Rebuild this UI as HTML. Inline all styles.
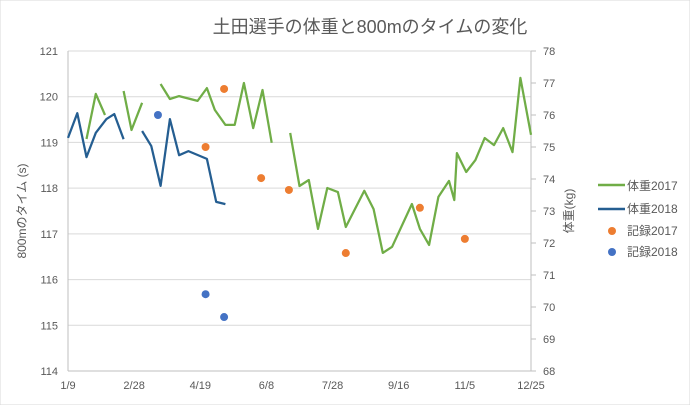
<!DOCTYPE html>
<html><head><meta charset="utf-8"><style>
body{margin:0;background:#fff}
svg{display:block;font-family:"Liberation Sans","Noto Sans CJK JP",sans-serif}
</style></head><body>
<svg id="chart" width="690" height="405" viewBox="0 0 690 405">
<rect x="0" y="0" width="690" height="405" fill="#fff" stroke="#d9d9d9"/>
<text x="370" y="33" text-anchor="middle" font-size="18" fill="#595959">土田選手の体重と800mのタイムの変化</text>
<g id="grid"></g>
<g id="axes"></g>
<g id="series"></g>
<text transform="translate(26,211) rotate(-90)" text-anchor="middle" font-size="12" fill="#595959">800mのタイム (s)</text>
<text transform="translate(573,211) rotate(-90)" text-anchor="middle" font-size="12" fill="#595959">体重(kg)</text>
<g font-size="12" fill="#595959">
<g><line x1="598" y1="185" x2="625" y2="185" stroke="#70ad47" stroke-width="2.5"/><text x="627" y="190">体重2017</text></g>
<g><line x1="598" y1="209" x2="625" y2="209" stroke="#255e91" stroke-width="2.5"/><text x="627" y="213">体重2018</text></g>
<g><circle cx="612" cy="231" r="4" fill="#ed7d31"/><text x="627" y="235">記録2017</text></g>
<g><circle cx="612" cy="252" r="4" fill="#4472c4"/><text x="627" y="256">記録2018</text></g>
</g>
</svg>
<script>
const xTickDays = [0,50,100,150,200,250,300,350];
const xTickLabels = ["1/9","2/28","4/19","6/8","7/28","9/16","11/5","12/25"];
const leftTicks = [114,115,116,117,118,119,120,121];
const rightTicks = [68,69,70,71,72,73,74,75,76,77,78];
const w17Days = [14,21,28,null,42,48,56,null,70,77,84,98,105,111,119,126,133,140,147,154,null,168,175,182,189,196,204,210,224,231,238,245,260,266,273,280,288,292,294,301,308,315,322,329,336,342,350];
const w17Vals = [75.25,76.66,76.0,null,76.75,75.53,76.38,null,76.97,76.5,76.59,76.44,76.84,76.16,75.69,75.69,77.0,75.59,76.78,75.13,null,75.44,73.78,73.97,72.44,73.72,73.59,72.5,73.63,73.06,71.69,71.88,73.22,72.44,71.94,73.44,73.94,73.34,74.81,74.22,74.59,75.28,75.06,75.59,74.84,77.16,75.38];
const w18Days = [0,7,14,21,29,35,42,null,56,63,70,77,84,91,105,112,119];
const w18Vals = [119.1,119.64,118.68,119.21,119.51,119.62,119.07,null,119.25,118.92,118.05,119.51,118.72,118.81,118.64,117.70,117.65];
const r17Days = [118,104,146,167,210,266,300];
const r17Vals = [120.17,118.9,118.22,117.96,116.58,117.57,116.89];
const r18Days = [68,104,118];
const r18Vals = [119.6,115.68,115.18];

const NS="http://www.w3.org/2000/svg";
const X0=68,X1=531,YT=51,YB=371;
const xs=d=>X0+(d/350)*(X1-X0);
const yl=v=>YB-(v-114)/7*(YB-YT);
const yr=v=>YB-(v-68)/10*(YB-YT);
function mk(tag,attrs,parent){const e=document.createElementNS(NS,tag);for(const k in attrs)e.setAttribute(k,attrs[k]);parent.appendChild(e);return e;}
const grid=document.getElementById('grid'),axes=document.getElementById('axes'),series=document.getElementById('series');
leftTicks.forEach(t=>{
  if(t>114){const g=mk('line',{x1:X0,x2:X1,y1:yl(t),y2:yl(t),stroke:'#d9d9d9'},grid);
  
  }
  const tx=mk('text',{x:58,y:yl(t)+4,'text-anchor':'end','font-size':11,fill:'#595959'},axes);
  tx.textContent=t;
  
  
});
rightTicks.forEach(t=>{
  mk('line',{x1:X1,x2:X1+5,y1:yr(t),y2:yr(t),stroke:'#bfbfbf'},axes);
  const tx=mk('text',{x:543,y:yr(t)+4,'font-size':11,fill:'#595959'},axes);
  tx.textContent=t;
  
  
});
xTickDays.forEach((d,i)=>{
  const tx=mk('text',{x:xs(d),y:389,'text-anchor':'middle','font-size':11,fill:'#595959'},axes);
  tx.textContent=xTickLabels[i];
  
  
});
mk('line',{x1:X0,x2:X0,y1:YT,y2:YB,stroke:'#bfbfbf'},axes);
mk('line',{x1:X1,x2:X1,y1:YT,y2:YB,stroke:'#bfbfbf'},axes);
mk('line',{x1:X0,x2:X1,y1:YB,y2:YB,stroke:'#bfbfbf'},axes);
function line(days,vals,ys,color,name){
  let d='',pen=false;
  days.forEach((dd,i)=>{if(dd===null||vals[i]===null){pen=false;return;}
    d+=(pen?'L':'M')+xs(dd).toFixed(1)+','+ys(vals[i]).toFixed(1);pen=true;});
  const p=mk('path',{d:d,fill:'none',stroke:color,'stroke-width':2.25,'stroke-linejoin':'round'},series);
  
  
}
line(w17Days,w17Vals,yr,'#70ad47','weight-2017-line');
line(w18Days,w18Vals,yl,'#255e91','weight-2018-line');
function dots(days,vals,color,name){
  days.forEach((dd,i)=>{const c=mk('circle',{cx:xs(dd),cy:yl(vals[i]),r:4,fill:color},series);
  
  });
}
dots(r17Days,r17Vals,'#ed7d31','record-2017-point');
dots(r18Days,r18Vals,'#4472c4','record-2018-point');
</script>
</body></html>
